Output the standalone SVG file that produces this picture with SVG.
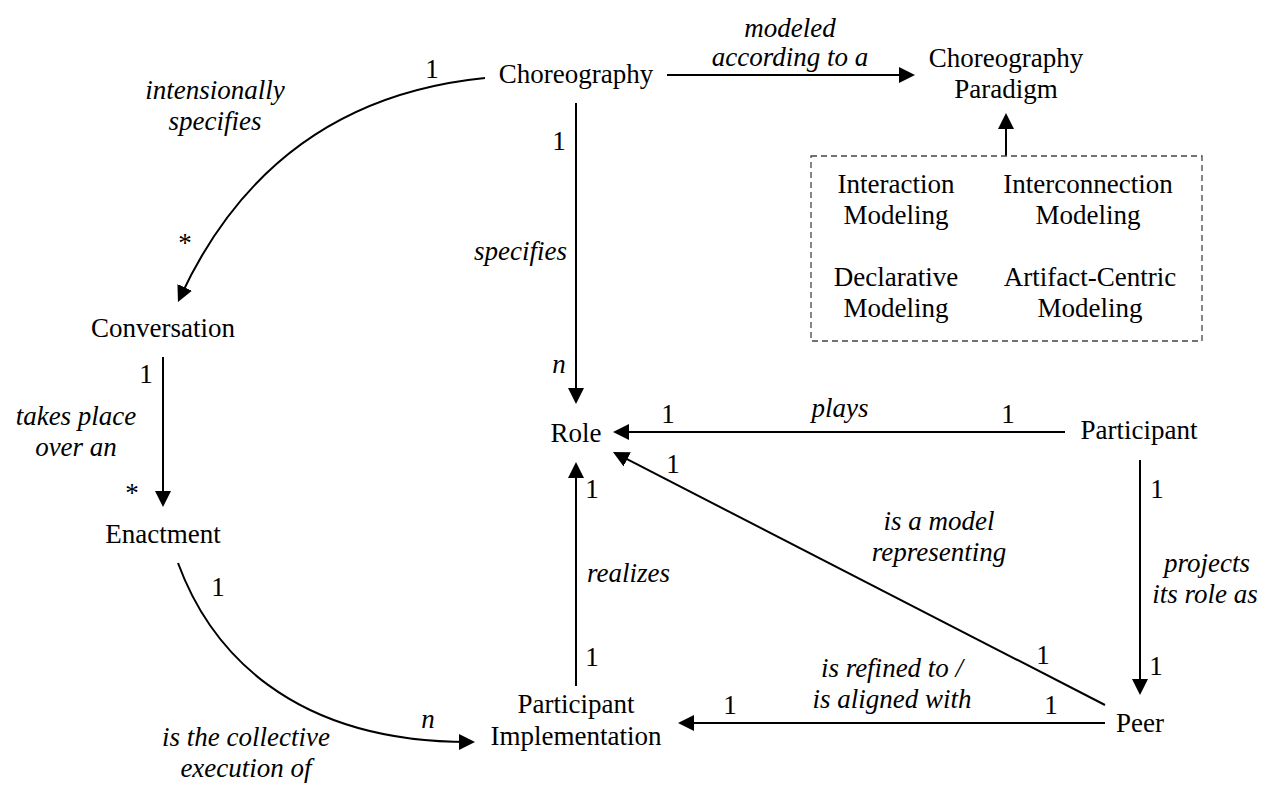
<svg xmlns="http://www.w3.org/2000/svg" width="1270" height="786" viewBox="0 0 1270 786">
  <defs>
    <!-- filled triangular arrow tip; tip sits 6px beyond the path end -->
    <marker id="tip" markerUnits="userSpaceOnUse" markerWidth="20" markerHeight="20" refX="10" refY="8" orient="auto">
      <path d="M0,0 L16,8 L0,16 Z" fill="#000"/>
    </marker>
  </defs>
  <style>
    text { font-family: 'Liberation Serif', 'Times New Roman', Times, 'DejaVu Serif', serif; font-size: 27px; fill: #000; text-anchor: middle; }
    .lbl { font-style: italic; }
    .edge { fill: none; stroke: #000; stroke-width: 2; marker-end: url(#tip); }
    .box { fill: none; stroke: #444; stroke-width: 1.3; stroke-dasharray: 6 4; }
  </style>
  <rect width="1270" height="786" fill="#fff"/>

  <!-- connectors -->
  <g id="connectors">
    <path class="edge" d="M667,75 L909,75"/>
    <path class="edge" d="M1006,156 L1006,119"/>
    <path class="edge" d="M576,103 L576,398"/>
    <path class="edge" d="M163,357 L163,501"/>
    <path class="edge" d="M576,686 L576,468"/>
    <path class="edge" d="M1065,432 L619,432"/>
    <path class="edge" d="M1105,705 L618.3,454.7"/>
    <path class="edge" d="M1140,460 L1140,689"/>
    <path class="edge" d="M1105,723 L684,723"/>
    <path class="edge" d="M485,78 C385,88 257,132 180.5,296.5"/>
    <path class="edge" d="M178,563 C210,650 290,742 469,742"/>
  </g>

  <!-- connector labels and multiplicities -->
  <g id="edge-labels">
    <text class="lbl" x="790" y="37">modeled</text>
    <text class="lbl" x="790" y="66">according to a</text>

    <text class="lbl" x="215" y="99">intensionally</text>
    <text class="lbl" x="215" y="130">specifies</text>
    <text x="432" y="78">1</text>
    <text x="185" y="252">*</text>

    <text x="559" y="150">1</text>
    <text class="lbl" x="567" y="260" style="text-anchor:end">specifies</text>
    <text class="lbl" x="559" y="373">n</text>

    <text x="146" y="383">1</text>
    <text class="lbl" x="76" y="425">takes place</text>
    <text class="lbl" x="76" y="456">over an</text>
    <text x="132" y="502">*</text>

    <text x="218" y="596">1</text>
    <text class="lbl" x="428" y="728">n</text>
    <text class="lbl" x="246" y="746">is the collective</text>
    <text class="lbl" x="246" y="777">execution of</text>

    <text x="592" y="498">1</text>
    <text x="592" y="666">1</text>
    <text class="lbl" x="587" y="582" style="text-anchor:start">realizes</text>

    <text x="668" y="423">1</text>
    <text class="lbl" x="840" y="417">plays</text>
    <text x="1008" y="423">1</text>

    <text x="673" y="473">1</text>
    <text class="lbl" x="939" y="530">is a model</text>
    <text class="lbl" x="939" y="561">representing</text>
    <text x="1043" y="664">1</text>

    <text x="1157" y="498">1</text>
    <text class="lbl" x="1207" y="572">projects</text>
    <text class="lbl" x="1205" y="603">its role as</text>
    <text x="1156" y="675">1</text>

    <text x="730" y="714">1</text>
    <text class="lbl" x="892" y="677">is refined to /</text>
    <text class="lbl" x="892" y="708">is aligned with</text>
    <text x="1051" y="714">1</text>
  </g>

  <!-- nodes -->
  <g id="choreography"><text x="576" y="83">Choreography</text></g>
  <g id="choreography-paradigm">
    <text x="1006" y="67">Choreography</text>
    <text x="1006" y="98">Paradigm</text>
  </g>
  <g id="paradigms">
    <rect class="box" x="811" y="156" width="391" height="185"/>
    <text x="896" y="193">Interaction</text>
    <text x="896" y="224">Modeling</text>
    <text x="1088" y="193">Interconnection</text>
    <text x="1088" y="224">Modeling</text>
    <text x="896" y="286">Declarative</text>
    <text x="896" y="317">Modeling</text>
    <text x="1090" y="286">Artifact-Centric</text>
    <text x="1090" y="317">Modeling</text>
  </g>
  <g id="conversation"><text x="163" y="337">Conversation</text></g>
  <g id="enactment"><text x="163" y="543">Enactment</text></g>
  <g id="role"><text x="576" y="442">Role</text></g>
  <g id="participant"><text x="1139" y="439">Participant</text></g>
  <g id="participant-implementation">
    <text x="576" y="713">Participant</text>
    <text x="576" y="745">Implementation</text>
  </g>
  <g id="peer"><text x="1140" y="732">Peer</text></g>
</svg>
